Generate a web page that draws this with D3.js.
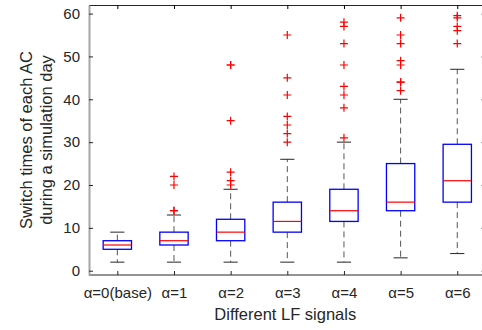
<!DOCTYPE html>
<html>
<head>
<meta charset="utf-8">
<script src="https://cdn.jsdelivr.net/npm/d3@7"></script>
<style>
    body { margin: 0; background: #fff; }
    svg text { font-family: "Liberation Sans", Arial, Helvetica, sans-serif; fill: #262626; }
</style>
</head>
<body>
<div id="chart"></div>
<script>
// Box statistics, one entry per LF signal
const groups = ['α=0(base)', 'α=1', 'α=2', 'α=3', 'α=4', 'α=5', 'α=6'];
const whiskerLow = [2, 2, 2, 2, 2, 3, 4];
const q1 = [5, 6, 7, 9, 11.5, 14, 16];
const medians = [6, 7, 9, 11.5, 14, 16, 21];
const q3 = [7, 9, 12, 16, 19, 25, 29.5];
const whiskerHigh = [9, 13, 19, 26, 30, 40, 47];
const outliers = [
    [],
    [22, 20, 14, 14],
    [48, 48, 35, 23, 21, 20],
    [55, 45, 41, 36, 34, 32, 30],
    [58, 57, 53, 48, 43, 41, 38, 31],
    [59, 55, 53, 49, 48, 44, 44, 42],
    [59.5, 59, 57, 56, 53]
];
const yTicks = [0, 10, 20, 30, 40, 50, 60];

let margin = { top: 5, left: 89, right: -3.6, bottom: 55 },
    width = 482 - margin.left - margin.right,
    height = 330 - margin.top - margin.bottom;

let data = groups.map((g, i) => ({
    group: g,
    lo: whiskerLow[i],
    q1: q1[i],
    med: medians[i],
    q3: q3[i],
    hi: whiskerHigh[i],
    out: outliers[i]
}));

let svg = d3.select('#chart')
    .append('svg')
    .attr('width', 482)
    .attr('height', 330);

let g = svg.append('g')
    .attr('transform', 'translate(' + margin.left + ',' + margin.top + ')');

let xScale = d3.scalePoint()
    .domain(groups)
    .range([0, width])
    .padding(0.5);

let yScale = d3.scaleLinear()
    .domain([-1, 62])
    .range([height, 0]);

const step = xScale.step(),
    boxW = step * 0.5,
    capW = step * 0.25;

// Frame (box on)
g.append('line')
    .attr('x1', 0).attr('x2', width)
    .attr('y1', 0.5).attr('y2', 0.5)
    .attr('stroke', '#262626');
g.append('line')
    .attr('x1', 0).attr('x2', width)
    .attr('y1', height).attr('y2', height)
    .attr('stroke', '#262626');
g.append('line')
    .attr('x1', width - 0.5).attr('x2', width - 0.5)
    .attr('y1', 0).attr('y2', height)
    .attr('stroke', '#262626');

// Y axis, ticks pointing inward
let yAxis = g.append('g')
    .call(d3.axisLeft(yScale).tickValues(yTicks).tickSizeInner(-4).tickSizeOuter(0).tickPadding(9));
yAxis.select('.domain').attr('stroke', '#a6a6a6').attr('stroke-width', 2);
yAxis.selectAll('.tick line').attr('stroke', '#262626');
yAxis.selectAll('text').style('font-size', '15px');

// Right side ticks
g.append('g')
    .attr('transform', 'translate(' + width + ',0)')
    .call(d3.axisRight(yScale).tickValues(yTicks).tickSizeInner(-4).tickSizeOuter(0).tickFormat(''))
    .select('.domain').remove();

// X axis, ticks pointing inward
let xAxis = g.append('g')
    .attr('transform', 'translate(0,' + height + ')')
    .call(d3.axisBottom(xScale).tickSizeInner(-4).tickSizeOuter(0).tickPadding(12));
xAxis.select('.domain').remove();
xAxis.selectAll('.tick line').attr('stroke', '#262626');
xAxis.selectAll('text').style('font-size', '15px');

g.append('g')
    .call(d3.axisTop(xScale).tickSizeInner(-4).tickSizeOuter(0).tickFormat(''))
    .select('.domain').remove();

// Boxes
let boxes = g.append('g')
    .selectAll('.box')
    .data(data)
    .enter()
    .append('g')
    .attr('class', 'box')
    .attr('transform', d => 'translate(' + xScale(d.group) + ',0)');

// dashed whiskers
boxes.append('line')
    .attr('y1', d => yScale(d.q3)).attr('y2', d => yScale(d.hi))
    .attr('stroke', '#555').attr('stroke-dasharray', '6,4');
boxes.append('line')
    .attr('y1', d => yScale(d.q1)).attr('y2', d => yScale(d.lo))
    .attr('stroke', '#555').attr('stroke-dasharray', '6,4');

// whisker caps
boxes.append('line')
    .attr('x1', -capW / 2).attr('x2', capW / 2)
    .attr('y1', d => yScale(d.hi)).attr('y2', d => yScale(d.hi))
    .attr('stroke', '#262626');
boxes.append('line')
    .attr('x1', -capW / 2).attr('x2', capW / 2)
    .attr('y1', d => yScale(d.lo)).attr('y2', d => yScale(d.lo))
    .attr('stroke', '#262626');

boxes.append('rect')
    .attr('x', -boxW / 2)
    .attr('width', boxW)
    .attr('y', d => yScale(d.q3))
    .attr('height', d => yScale(d.q1) - yScale(d.q3))
    .attr('fill', 'none')
    .attr('stroke', '#0000ff')
    .attr('stroke-width', 1.3);

boxes.append('line')
    .attr('x1', -boxW / 2).attr('x2', boxW / 2)
    .attr('y1', d => yScale(d.med)).attr('y2', d => yScale(d.med))
    .attr('stroke', '#ff0000')
    .attr('stroke-width', 1.2);

// outliers as red plus signs
boxes.selectAll('.outlier')
    .data(d => d.out)
    .enter()
    .append('path')
    .attr('class', 'outlier')
    .attr('d', v => 'M-4,' + yScale(v) + 'h8M0,' + (yScale(v) - 4) + 'v8')
    .attr('stroke', '#ff0000')
    .attr('stroke-width', 1.2);

// Axis labels
g.append('text')
    .attr('x', width / 2 - 2)
    .attr('y', height + 45)
    .attr('text-anchor', 'middle')
    .style('font-size', '16.5px')
    .text('Different LF signals');

let yLabel = g.append('text')
    .attr('transform', 'translate(' + (32 - margin.left) + ',' + (height / 2) + ') rotate(-90)')
    .attr('text-anchor', 'middle')
    .style('font-size', '16.5px');
yLabel.append('tspan').attr('x', 0).attr('dy', 0).text('Switch times of each AC');
yLabel.append('tspan').attr('x', 0).attr('dy', 20).text('during a simulation day');
</script>
</body>
</html>
